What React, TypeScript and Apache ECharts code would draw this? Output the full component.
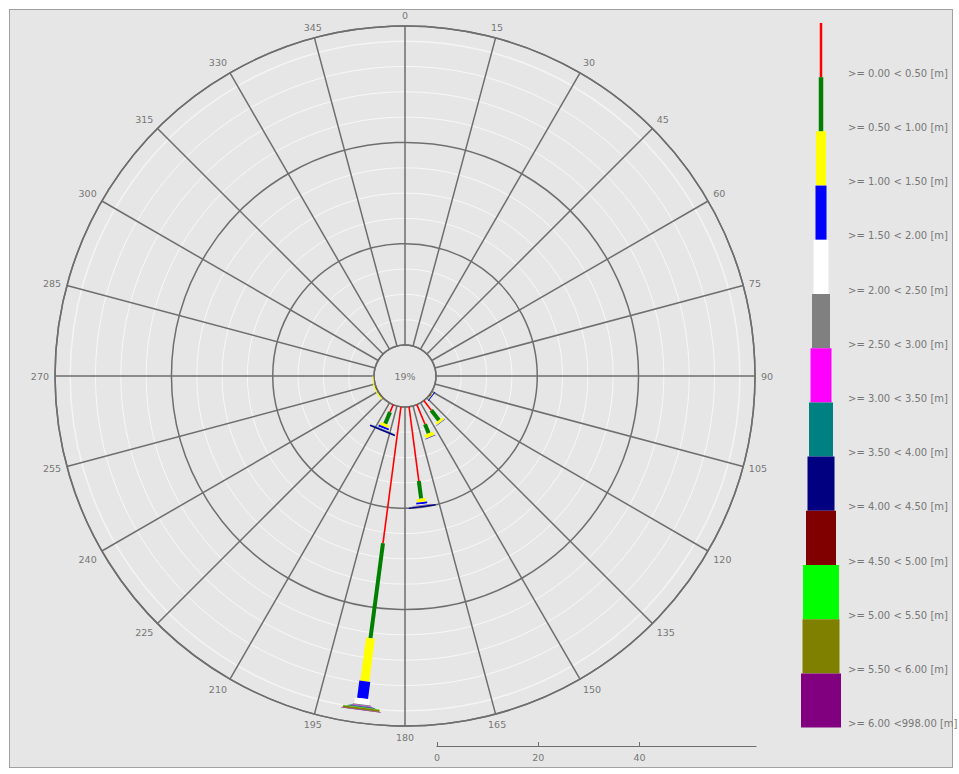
import { useEffect, useRef } from "react";
import * as echarts from "echarts";

// Significant wave height classes
const CLASS_LABELS = [
  ">= 0.00 < 0.50 [m]",
  ">= 0.50 < 1.00 [m]",
  ">= 1.00 < 1.50 [m]",
  ">= 1.50 < 2.00 [m]",
  ">= 2.00 < 2.50 [m]",
  ">= 2.50 < 3.00 [m]",
  ">= 3.00 < 3.50 [m]",
  ">= 3.50 < 4.00 [m]",
  ">= 4.00 < 4.50 [m]",
  ">= 4.50 < 5.00 [m]",
  ">= 5.00 < 5.50 [m]",
  ">= 5.50 < 6.00 [m]",
  ">= 6.00 <998.00 [m]",
];
const CLASS_COLORS = [
  "#ff0000", "#008000", "#ffff00", "#0000ff", "#ffffff", "#808080", "#ff00ff",
  "#008080", "#000080", "#800000", "#00ff00", "#808000", "#800080",
];
// bar thickness (px) per class, growing with wave height
const CLASS_WIDTHS = [1.6, 4, 9, 11, 15, 18, 21, 24, 27, 30, 36, 37, 40];
const LEGEND_WIDTHS = [2.5, 4.5, 10, 11, 15, 18, 21, 24, 27, 30, 36, 37, 40];

const CALM_LABEL = "19%";
const RADIAL_MAX = 63;
const SCALE_LABELS = [0, 20, 40];

// Direction sector centres (degrees, clockwise from north)
const SECTOR_CENTERS = [127.5, 142.5, 157.5, 172.5, 187.5, 202.5, 232.5, 247.5, 262.5];

// Frequency (%) per wave height class for each sector
const FREQ_127 = [0.2, 0.1, 0.1, 0.2, 0, 0, 0, 0, 0, 0, 0, 0, 0];
const FREQ_142 = [2.4, 2.5, 0.5, 0.1, 0, 0, 0, 0, 0, 0, 0, 0, 0];
const FREQ_157 = [4.2, 1.9, 0.8, 0.1, 0, 0, 0, 0, 0, 0, 0, 0, 0];
const FREQ_172 = [14.8, 3.5, 0.7, 0.4, 0.15, 0.1, 0.05, 0.05, 0.25, 0, 0, 0, 0];
const FREQ_187 = [27.2, 18.9, 8.6, 3.4, 1.2, 0.2, 0.1, 0.1, 0.1, 0.05, 0.1, 0.4, 0.1];
const FREQ_202 = [1.6, 2.5, 0.6, 0.4, 0.1, 0.1, 0, 0.05, 0.3, 0, 0, 0, 0];
const FREQ_232 = [0.1, 0.1, 0.2, 0, 0, 0, 0, 0, 0, 0, 0, 0, 0];
const FREQ_247 = [0.1, 0.1, 0.2, 0, 0, 0, 0, 0, 0, 0, 0, 0, 0];
const FREQ_262 = [0.05, 0.05, 0.15, 0, 0, 0, 0, 0, 0, 0, 0, 0, 0];
const SECTOR_FREQUENCIES = [
  FREQ_127, FREQ_142, FREQ_157, FREQ_172, FREQ_187, FREQ_202, FREQ_232, FREQ_247, FREQ_262,
];

const CENTER_X = 405;
const CENTER_Y = 376;
const INNER_R = 31;
const OUTER_R = 350;
const TEXT_COLOR = "#777";
const GRID_COLOR = "#6e6e6e";

function buildSegments() {
  const out: number[][] = [];
  SECTOR_CENTERS.forEach((angle, s) => {
    let acc = 0;
    SECTOR_FREQUENCIES[s].forEach((v, cls) => {
      if (v > 0) {
        out.push([acc + v, angle, acc, cls]);
        acc += v;
      }
    });
  });
  return out;
}

export default function App() {
  const ref = useRef<HTMLDivElement>(null);

  useEffect(() => {
    if (!ref.current) return;
    const chart = echarts.init(ref.current, null, { renderer: "svg" });

    // tapered colour key on the right
    const legendTop = 23;
    const legendStep = 54.2;
    const legendX = 821;
    const legendGraphics: any[] = [];
    CLASS_LABELS.forEach((label, i) => {
      const w = LEGEND_WIDTHS[i];
      legendGraphics.push({
        type: "rect",
        shape: { x: legendX - w / 2, y: legendTop + legendStep * i, width: w, height: legendStep },
        style: { fill: CLASS_COLORS[i] },
      });
      legendGraphics.push({
        type: "text",
        x: 848,
        y: legendTop + legendStep * (i + 1) - 4,
        style: {
          text: label,
          fill: TEXT_COLOR,
          fontSize: 10,
          fontFamily: "DejaVu Sans",
          verticalAlign: "middle",
        },
      });
    });

    const option: any = {
      animation: false,
      backgroundColor: "transparent",
      polar: {
        center: [CENTER_X, CENTER_Y],
        radius: [INNER_R, OUTER_R],
      },
      angleAxis: {
        type: "value",
        min: 0,
        max: 360,
        interval: 15,
        startAngle: 90,
        clockwise: true,
        axisLine: { show: true, lineStyle: { color: GRID_COLOR, width: 1.5 } },
        axisTick: { show: false },
        axisLabel: {
          show: true,
          margin: 6,
          color: TEXT_COLOR,
          fontSize: 9.5,
          fontFamily: "DejaVu Sans",
        },
        splitLine: { show: true, lineStyle: { color: GRID_COLOR, width: 1.5 } },
      },
      radiusAxis: {
        type: "value",
        min: 0,
        max: RADIAL_MAX,
        interval: 20,
        axisLine: { show: false },
        axisTick: { show: false },
        axisLabel: { show: false },
        splitLine: {
          show: true,
          lineStyle: { color: [GRID_COLOR, GRID_COLOR, GRID_COLOR, "#f4f4f4"], width: 1.5 },
        },
        minorTick: { show: false, splitNumber: 4 },
        minorSplitLine: { show: true, lineStyle: { color: "#f8f8f8", width: 1 } },
      },
      grid: {
        left: CENTER_X + INNER_R + 1,
        width: OUTER_R - INNER_R,
        top: 745,
        height: 1,
      },
      xAxis: {
        type: "value",
        min: 0,
        max: RADIAL_MAX,
        interval: 20,
        axisLine: { show: true, lineStyle: { color: GRID_COLOR, width: 1.2 } },
        axisTick: {
          show: true,
          inside: true,
          length: 4,
          customValues: SCALE_LABELS,
          lineStyle: { color: GRID_COLOR },
        },
        axisLabel: {
          show: true,
          customValues: SCALE_LABELS,
          formatter: (v: number) => (SCALE_LABELS.includes(v) ? String(v) : ""),
          color: TEXT_COLOR,
          fontSize: 9.5,
          fontFamily: "DejaVu Sans",
          margin: 6,
        },
        splitLine: { show: false },
      },
      yAxis: { type: "value", show: false, min: 0, max: 1 },
      series: [
        {
          type: "custom",
          coordinateSystem: "polar",
          data: buildSegments(),
          renderItem: (_params: any, api: any) => {
            const end = api.value(0);
            const ang = api.value(1);
            const start = api.value(2);
            const cls = api.value(3);
            const p0 = api.coord([start, ang]);
            const p1 = api.coord([end, ang]);
            const rad = (ang * Math.PI) / 180;
            const nx = Math.cos(rad);
            const ny = Math.sin(rad);
            const hw = CLASS_WIDTHS[cls] / 2;
            return {
              type: "polygon",
              shape: {
                points: [
                  [p0[0] + nx * hw, p0[1] + ny * hw],
                  [p1[0] + nx * hw, p1[1] + ny * hw],
                  [p1[0] - nx * hw, p1[1] - ny * hw],
                  [p0[0] - nx * hw, p0[1] - ny * hw],
                ],
              },
              style: { fill: CLASS_COLORS[cls] },
            };
          },
        },
      ],
      graphic: [
        {
          type: "text",
          x: CENTER_X,
          y: CENTER_Y,
          style: {
            text: CALM_LABEL,
            fill: TEXT_COLOR,
            fontSize: 9.5,
            fontFamily: "DejaVu Sans",
            align: "center",
            verticalAlign: "middle",
          },
        },
        ...legendGraphics,
      ],
    };

    chart.setOption(option);
    return () => chart.dispose();
  }, []);

  return (
    <div style={{ position: "absolute", left: 0, top: 0, width: 959, height: 774, background: "#ffffff" }}>
      <div
        style={{
          position: "absolute",
          left: 9,
          top: 9,
          width: 942,
          height: 757,
          background: "#e6e6e6",
          border: "1.5px solid #a0a0a0",
        }}
      />
      <div ref={ref} style={{ position: "absolute", left: 0, top: 0, width: 959, height: 774 }} />
    </div>
  );
}
